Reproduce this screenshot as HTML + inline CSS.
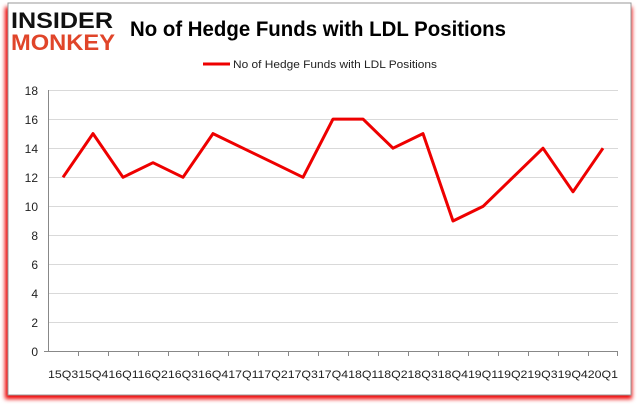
<!DOCTYPE html>
<html><head><style>
body{margin:0;background:#fff;width:637px;height:408px;overflow:hidden;font-family:"Liberation Sans",sans-serif}
</style></head><body>
<svg width="637" height="408" viewBox="0 0 637 408" xmlns="http://www.w3.org/2000/svg">
<defs><filter id="s" x="-5%" y="-5%" width="110%" height="115%"><feGaussianBlur stdDeviation="2"/></filter></defs>
<rect x="5" y="7" width="627" height="392" fill="#e00" filter="url(#s)"/>
<rect x="8" y="3" width="623" height="392" fill="#fff" stroke="#999" stroke-width="1"/>
<text x="11" y="28" font-size="22" font-weight="bold" fill="#111" font-family="Liberation Sans" textLength="102" lengthAdjust="spacingAndGlyphs">INSIDER</text>
<text x="11" y="50" font-size="22" font-weight="bold" fill="#e0452a" font-family="Liberation Sans" textLength="104" lengthAdjust="spacingAndGlyphs">MONKEY</text>
<text x="130" y="36" font-size="21" font-weight="bold" fill="#000" textLength="376" lengthAdjust="spacingAndGlyphs">No of Hedge Funds with LDL Positions</text>
<line x1="203" y1="64" x2="230" y2="64" stroke="#e00" stroke-width="3"/>
<text x="233" y="68" font-size="11" fill="#222" textLength="204" lengthAdjust="spacingAndGlyphs">No of Hedge Funds with LDL Positions</text>
<g stroke="#d9d9d9" stroke-width="1">
<line x1="48" y1="90.5" x2="618" y2="90.5"/><line x1="48" y1="119.5" x2="618" y2="119.5"/><line x1="48" y1="148.5" x2="618" y2="148.5"/><line x1="48" y1="177.5" x2="618" y2="177.5"/><line x1="48" y1="206.5" x2="618" y2="206.5"/><line x1="48" y1="235.5" x2="618" y2="235.5"/><line x1="48" y1="264.5" x2="618" y2="264.5"/><line x1="48" y1="293.5" x2="618" y2="293.5"/><line x1="48" y1="322.5" x2="618" y2="322.5"/>
</g>
<g stroke="#888" stroke-width="1">
<line x1="48.5" y1="90" x2="48.5" y2="352"/>
<line x1="44" y1="351.5" x2="618" y2="351.5"/>
</g>
<g font-size="12" fill="#222" text-anchor="end">
<text x="38" y="95">18</text><text x="38" y="124">16</text><text x="38" y="153">14</text><text x="38" y="182">12</text><text x="38" y="211">10</text><text x="38" y="240">8</text><text x="38" y="269">6</text><text x="38" y="298">4</text><text x="38" y="327">2</text><text x="38" y="356">0</text>
</g>
<g font-size="11" fill="#222" id="xl"></g>
<polyline fill="none" stroke="#e00" stroke-width="3" stroke-linejoin="round" points="63,177.3 93,133.6 123,177.3 153,162.7 183,177.3 213,133.6 243,148.2 273,162.7 303,177.3 333,119.1 363,119.1 393,148.2 423,133.6 453,221 483,206.4 513,177.3 543,148.2 573,191.8 603,148.2"/>
<g font-size="11" fill="#222">
<text x="48" y="378" textLength="570" lengthAdjust="spacingAndGlyphs">15Q315Q416Q116Q216Q316Q417Q117Q217Q317Q418Q118Q218Q318Q419Q119Q219Q319Q420Q1</text>
</g>
<g stroke="#888">
<line x1="78.5" y1="352" x2="78.5" y2="356"/><line x1="108.5" y1="352" x2="108.5" y2="356"/><line x1="138.5" y1="352" x2="138.5" y2="356"/><line x1="168.5" y1="352" x2="168.5" y2="356"/><line x1="198.5" y1="352" x2="198.5" y2="356"/><line x1="228.5" y1="352" x2="228.5" y2="356"/><line x1="258.5" y1="352" x2="258.5" y2="356"/><line x1="288.5" y1="352" x2="288.5" y2="356"/><line x1="318.5" y1="352" x2="318.5" y2="356"/><line x1="348.5" y1="352" x2="348.5" y2="356"/><line x1="378.5" y1="352" x2="378.5" y2="356"/><line x1="408.5" y1="352" x2="408.5" y2="356"/><line x1="438.5" y1="352" x2="438.5" y2="356"/><line x1="468.5" y1="352" x2="468.5" y2="356"/><line x1="498.5" y1="352" x2="498.5" y2="356"/><line x1="528.5" y1="352" x2="528.5" y2="356"/><line x1="558.5" y1="352" x2="558.5" y2="356"/><line x1="588.5" y1="352" x2="588.5" y2="356"/><line x1="617.5" y1="352" x2="617.5" y2="356"/>
</g>
</svg>
</body></html>
